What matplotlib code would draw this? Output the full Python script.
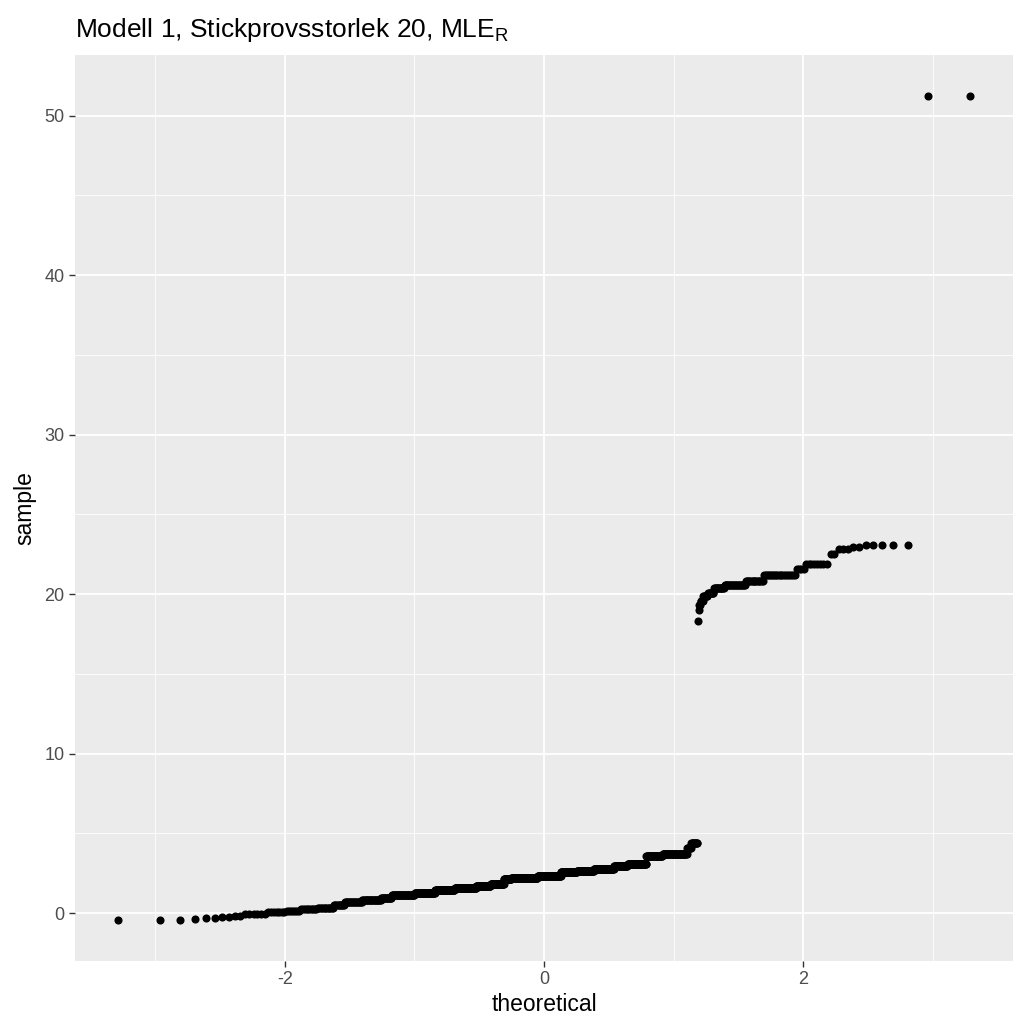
import matplotlib
matplotlib.use("Agg")
import matplotlib.pyplot as plt
import numpy as np
from statistics import NormalDist

plt.rcParams['font.family'] = ['Liberation Sans', 'DejaVu Sans']
plt.rcParams['mathtext.fontset'] = 'custom'
plt.rcParams['mathtext.rm'] = 'Liberation Sans'

# sorted sample, run-length encoded: value and how many times it repeats
sample_values = [-0.42, -0.36, -0.33, -0.30, -0.22, -0.15, -0.05, 0.05, 0.15, 0.25,
                 0.35, 0.50, 0.72, 0.85, 0.95, 1.15, 1.28, 1.42, 1.58, 1.72,
                 1.85, 2.15, 2.22, 2.32, 2.55, 2.65, 2.78, 2.98, 3.08, 3.58,
                 3.68, 4.10, 4.38,
                 18.3, 19.0, 19.3, 19.6, 19.9, 20.1, 20.4, 20.6, 20.8, 21.2,
                 21.6, 21.9, 22.5, 22.85, 22.95, 23.05, 51.2]
sample_counts = [3, 1, 1, 1, 2, 2, 6, 7, 7, 10,
                 12, 10, 18, 24, 16, 39, 41, 45, 55, 40,
                 38, 22, 80, 72, 48, 50, 55, 35, 45, 35,
                 45, 7, 10,
                 1, 1, 2, 4, 7, 8, 13, 22, 15, 19,
                 4, 8, 2, 3, 2, 5, 2]

sample = np.repeat(sample_values, sample_counts)
n = len(sample)
# theoretical normal quantiles, as stat_qq (ppoints)
theoretical = np.array([NormalDist().inv_cdf((i - 0.5) / n) for i in range(1, n + 1)])

fig = plt.figure(figsize=(10.24, 10.24), dpi=100)
ax = fig.add_axes([75 / 1024, 1 - 961 / 1024, (1013 - 75) / 1024, (961 - 55) / 1024])
ax.set_facecolor('#EBEBEB')

ax.scatter(theoretical, sample, s=34, c='black', linewidths=0, zorder=3)

ax.set_xlim(-3.62, 3.62)
ax.set_ylim(-3.0, 53.8)
ax.set_xticks([-2, 0, 2])
ax.set_xticklabels(['-2', '0', '2'])
ax.set_xticks([-3, -1, 1, 3], minor=True)
ax.set_yticks([0, 10, 20, 30, 40, 50])
ax.set_yticks([5, 15, 25, 35, 45], minor=True)

ax.grid(which='major', color='white', linewidth=1.3)
ax.grid(which='minor', color='white', linewidth=0.6)
ax.set_axisbelow(True)
for sp in ax.spines.values():
    sp.set_visible(False)
ax.tick_params(which='major', length=4, color='#333333', labelcolor='#4D4D4D',
               labelsize=13, width=1)
ax.tick_params(which='minor', length=0)

ax.set_xlabel('theoretical', fontsize=16.5, color='black', labelpad=3)
ax.set_ylabel('sample', fontsize=16.5, color='black', labelpad=6)
fig.text(75 / 1024, 1 - 30 / 1024, 'Modell 1, Stickprovsstorlek 20, MLE$_{\\mathrm{R}}$',
         fontsize=19, ha='left', va='center')

fig.savefig('out.png', dpi=100)
